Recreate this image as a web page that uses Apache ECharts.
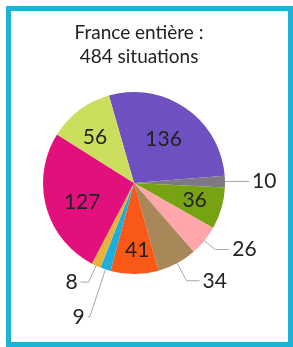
<!DOCTYPE html>
<html>
<head>
    <meta charset="utf-8">
    <title>France entière</title>
    <style>
        html, body { margin: 0; padding: 0; background: #fff; }
        #chart { width: 293px; height: 347px; }
    </style>
</head>
<body>
<div id="chart"></div>
<script src="https://cdn.jsdelivr.net/npm/echarts@6/dist/echarts.min.js"></script>
<script>
    // données (sens horaire depuis le haut)
    var values = [136, 10, 36, 26, 34, 41, 9, 8, 127, 56];
    var colors = ['#6E50C0', '#7D7A85', '#77A212', '#FFA6AA', '#A88759', '#F95816', '#1EAEDE', '#E8B33A', '#E2107C', '#CCDE5E'];
    var titleText = 'France entière :\n484 situations';

    // étiquettes extérieures : [longueur1, longueur2], null = étiquette intérieure
    var outsideLines = [null, [6, 18], null, [14, 14], [20, 13], null, [50, 2], [18, 8], null, null];
    // petits décalages des étiquettes intérieures
    var nudges = [[2, -4], [0, 0], [14, 4], [0, 0], [0, 0], [3, 19], [0, 0], [0, 0], [-5, 7], [-10, -7]];

    var data = values.map(function (v, i) {
        var item = {value: v, itemStyle: {color: colors[i]}};
        if (outsideLines[i]) {
            item.label = {position: 'outside'};
            item.labelLine = {show: true, length: outsideLines[i][0], length2: outsideLines[i][1]};
        } else {
            item.label = {position: 'inside'};
            item.labelLine = {show: false};
        }
        return item;
    });

    var myChart = echarts.init(document.getElementById('chart'));
    var option = {
        animation: false,
        title: {
            text: titleText,
            left: 134,
            textAlign: 'center',
            top: 16,
            textStyle: {
                fontFamily: 'Lato',
                fontSize: 19,
                fontWeight: 'normal',
                color: '#222',
                lineHeight: 24
            }
        },
        graphic: [{
            type: 'rect',
            shape: {x: 8.5, y: 8.5, width: 282, height: 336},
            style: {fill: 'none', stroke: '#1CB3D9', lineWidth: 5},
            silent: true
        }],
        series: [{
            type: 'pie',
            center: [134, 183],
            radius: 91,
            startAngle: 106,
            clockwise: true,
            avoidLabelOverlap: false,
            label: {
                show: true,
                formatter: '{c}',
                fontFamily: 'Lato',
                fontSize: 21,
                color: '#222',
                distanceToLabelLine: 3
            },
            labelLine: {
                lineStyle: {color: '#A8A8A8', width: 1}
            },
            labelLayout: function (p) {
                var n = nudges[p.dataIndex];
                return {dx: n[0], dy: n[1]};
            },
            data: data
        }]
    };
    myChart.setOption(option);
</script>
</body>
</html>
